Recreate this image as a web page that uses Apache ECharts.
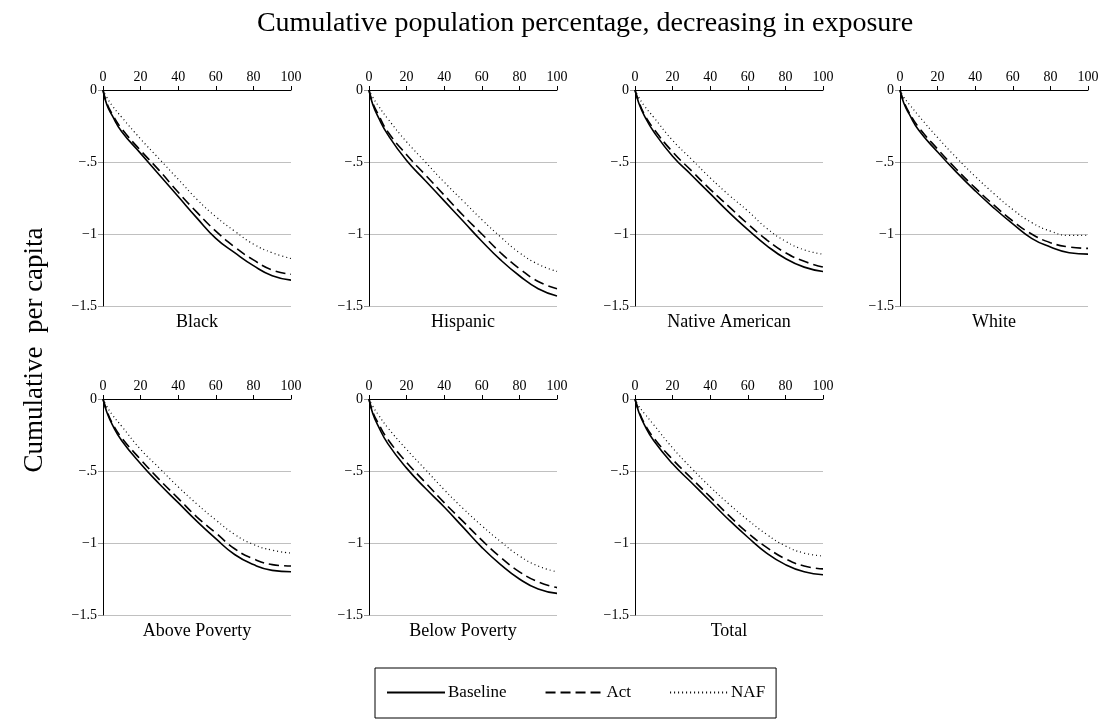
<!DOCTYPE html>
<html>
<head>
<meta charset="utf-8">
<script src="https://cdn.jsdelivr.net/npm/echarts@6/dist/echarts.min.js"></script>
<style>
  html, body { margin: 0; padding: 0; background: #fff; }
  #chart { width: 1104px; height: 719px; }
</style>
</head>
<body>
<div id="chart"></div>
<script>
// cumulative population percentage (x positions of the sampled points)
const pct = [0, 2, 5, 10, 20, 30, 40, 50, 60, 70, 80, 90, 100];
const xTicks = [0, 20, 40, 60, 80, 100];
const yTicks = [0, -0.5, -1, -1.5];

const panelNames = ['Black', 'Hispanic', 'Native American', 'White', 'Above Poverty', 'Below Poverty', 'Total'];
const seriesNames = ['Baseline', 'Act', 'NAF'];

const blackBaseline = [0, -0.10, -0.18, -0.29, -0.44, -0.59, -0.74, -0.89, -1.03, -1.13, -1.22, -1.29, -1.32];
const blackAct      = [0, -0.09, -0.17, -0.27, -0.42, -0.56, -0.71, -0.85, -0.98, -1.09, -1.18, -1.25, -1.28];
const blackNaf      = [0, -0.05, -0.11, -0.19, -0.34, -0.48, -0.62, -0.76, -0.88, -0.98, -1.07, -1.13, -1.17];

const hispBaseline  = [0, -0.10, -0.19, -0.31, -0.49, -0.63, -0.77, -0.91, -1.05, -1.18, -1.29, -1.38, -1.43];
const hispAct       = [0, -0.09, -0.17, -0.29, -0.45, -0.59, -0.73, -0.87, -1.00, -1.13, -1.24, -1.33, -1.38];
const hispNaf       = [0, -0.05, -0.11, -0.20, -0.36, -0.50, -0.64, -0.77, -0.90, -1.02, -1.13, -1.21, -1.26];

const nativeBaseline = [0, -0.09, -0.18, -0.29, -0.46, -0.59, -0.72, -0.85, -0.97, -1.08, -1.17, -1.23, -1.26];
const nativeAct      = [0, -0.08, -0.17, -0.27, -0.43, -0.56, -0.69, -0.81, -0.93, -1.04, -1.13, -1.19, -1.23];
const nativeNaf      = [0, -0.05, -0.11, -0.19, -0.35, -0.48, -0.61, -0.73, -0.84, -0.96, -1.05, -1.11, -1.14];

const whiteBaseline = [0, -0.09, -0.17, -0.28, -0.43, -0.57, -0.70, -0.82, -0.93, -1.03, -1.09, -1.13, -1.14];
const whiteAct      = [0, -0.08, -0.16, -0.26, -0.41, -0.55, -0.68, -0.80, -0.91, -1.00, -1.06, -1.09, -1.10];
const whiteNaf      = [0, -0.05, -0.10, -0.18, -0.33, -0.47, -0.60, -0.72, -0.83, -0.92, -0.98, -1.01, -1.01];

const abovePovBaseline = [0, -0.09, -0.18, -0.29, -0.45, -0.59, -0.72, -0.85, -0.97, -1.08, -1.15, -1.19, -1.20];
const abovePovAct      = [0, -0.08, -0.17, -0.27, -0.42, -0.56, -0.69, -0.82, -0.93, -1.04, -1.11, -1.15, -1.16];
const abovePovNaf      = [0, -0.05, -0.11, -0.19, -0.35, -0.48, -0.61, -0.73, -0.84, -0.94, -1.01, -1.05, -1.07];

const belowPovBaseline = [0, -0.10, -0.19, -0.31, -0.48, -0.62, -0.75, -0.89, -1.03, -1.15, -1.25, -1.32, -1.35];
const belowPovAct      = [0, -0.09, -0.17, -0.28, -0.44, -0.58, -0.72, -0.85, -0.98, -1.10, -1.20, -1.27, -1.31];
const belowPovNaf      = [0, -0.05, -0.11, -0.20, -0.35, -0.49, -0.63, -0.76, -0.88, -0.99, -1.09, -1.16, -1.20];

const totalBaseline = [0, -0.09, -0.18, -0.29, -0.45, -0.58, -0.71, -0.84, -0.96, -1.07, -1.15, -1.20, -1.22];
const totalAct      = [0, -0.08, -0.17, -0.27, -0.42, -0.55, -0.68, -0.81, -0.93, -1.03, -1.11, -1.16, -1.18];
const totalNaf      = [0, -0.05, -0.10, -0.18, -0.34, -0.48, -0.61, -0.73, -0.84, -0.94, -1.02, -1.07, -1.09];

const panelData = [
  [blackBaseline, blackAct, blackNaf],
  [hispBaseline, hispAct, hispNaf],
  [nativeBaseline, nativeAct, nativeNaf],
  [whiteBaseline, whiteAct, whiteNaf],
  [abovePovBaseline, abovePovAct, abovePovNaf],
  [belowPovBaseline, belowPovAct, belowPovNaf],
  [totalBaseline, totalAct, totalNaf]
];

const FONT = 'Liberation Serif';
const colLeft = [103, 369, 635, 900];
const rowTop = [90, 399];
const plotW = 188;
const plotH = 216;

const lineStyles = [
  { type: 'solid', width: 1.6 },
  { type: [10, 5], width: 1.6 },
  { type: [1, 3], width: 1.2 }
];

const fmtY = v => {
  if (v === 0) return '0';
  return '\u2212' + String(Math.abs(v)).replace(/^0/, '');
};

const grids = [], xAxes = [], yAxes = [], series = [], graphics = [];

panelNames.forEach((name, i) => {
  const col = i % 4;
  const row = Math.floor(i / 4);
  const left = colLeft[col];
  const top = rowTop[row];
  grids.push({ left: left, top: top, width: plotW, height: plotH });

  xAxes.push({
    type: 'value', gridIndex: i, position: 'top',
    min: xTicks[0], max: xTicks[xTicks.length - 1], interval: 20,
    axisLine: { lineStyle: { color: '#000', width: 1 } },
    axisTick: { length: 4, lineStyle: { color: '#000' } },
    axisLabel: { fontFamily: FONT, fontSize: 14, color: '#000', margin: 6 },
    splitLine: { show: false }
  });

  yAxes.push({
    type: 'value', gridIndex: i,
    min: yTicks[yTicks.length - 1], max: yTicks[0], interval: 0.5,
    axisLine: { show: true, lineStyle: { color: '#000', width: 1 } },
    axisTick: { show: true, length: 5, lineStyle: { color: '#999' } },
    axisLabel: { fontFamily: FONT, fontSize: 14, color: '#000', margin: 6, formatter: fmtY },
    splitLine: { show: true, lineStyle: { color: '#c0c0c0', width: 1.2 } }
  });

  panelData[i].forEach((vals, k) => {
    series.push({
      name: seriesNames[k],
      type: 'line',
      xAxisIndex: i, yAxisIndex: i,
      data: pct.map((x, j) => [x, vals[j]]),
      showSymbol: false, symbol: 'none',
      smooth: 0.5,
      color: '#000',
      lineStyle: Object.assign({ color: '#000' }, lineStyles[k]),
      emphasis: { disabled: true },
      z: 3 - k
    });
  });

  graphics.push({
    type: 'text',
    x: left + plotW / 2, y: top + plotH + 16,
    style: { text: name, fontFamily: FONT, fontSize: 18, fill: '#000', align: 'center', verticalAlign: 'middle' }
  });
});

graphics.push({
  type: 'text',
  x: 35, y: 350, rotation: Math.PI / 2,
  style: { text: 'Cumulative  per capita', fontFamily: FONT, fontSize: 27, fill: '#000', align: 'center', verticalAlign: 'middle' }
});

graphics.push({
  type: 'text',
  x: 585, y: 24,
  style: { text: 'Cumulative population percentage, decreasing in exposure', fontFamily: FONT, fontSize: 28, fill: '#000', align: 'center', verticalAlign: 'middle' }
});

const chart = echarts.init(document.getElementById('chart'));
chart.setOption({
  backgroundColor: '#fff',
  animation: false,
  legend: {
    data: seriesNames,
    left: 375, top: 668,
    padding: [16, 11, 17, 11],
    itemWidth: 58, itemHeight: 14, itemGap: 38,
    itemStyle: { opacity: 0 },
    borderColor: '#000', borderWidth: 1,
    textStyle: { fontFamily: FONT, fontSize: 17, color: '#000', padding: [0, 0, 0, -2] },
    selectedMode: false
  },
  grid: grids,
  xAxis: xAxes,
  yAxis: yAxes,
  series: series,
  graphic: graphics
});
</script>
</body>
</html>
